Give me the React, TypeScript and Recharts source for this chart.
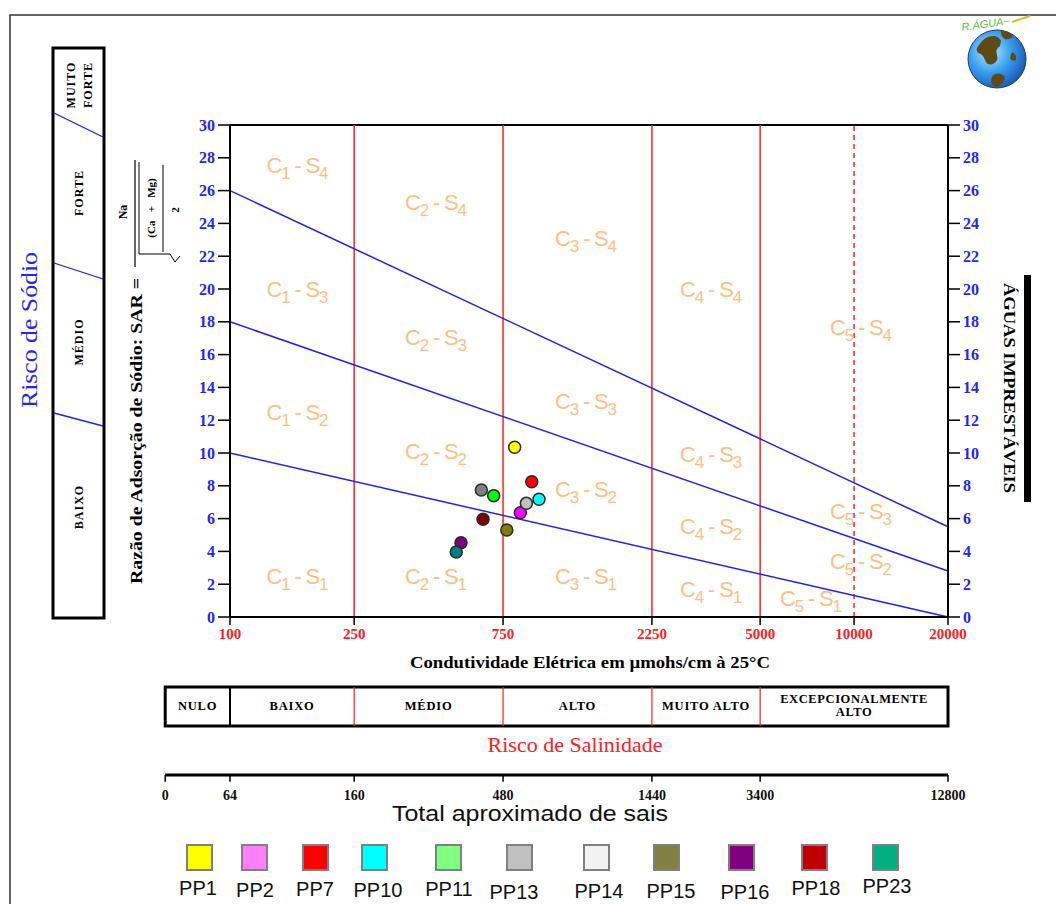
import React from 'react';
import { ScatterChart, Scatter, XAxis, YAxis, ReferenceLine, ReferenceDot, ReferenceArea } from 'recharts';

// ---------- data ----------
const ecTicks = [100, 250, 750, 2250, 5000, 10000, 20000];
const sarTicks = [0, 2, 4, 6, 8, 10, 12, 14, 16, 18, 20, 22, 24, 26, 28, 30];
const salinityBounds = [250, 750, 2250, 5000];
const dashedBound = 10000;

// sodium hazard boundaries: SAR at EC=100 and at EC=20000
const sodiumStart = [10, 18, 26];
const sodiumEnd = [0, 2.8, 5.5];

const sampleNames = ['PP1', 'PP2', 'PP7', 'PP10', 'PP11', 'PP13', 'PP14', 'PP15', 'PP16', 'PP18', 'PP23'];
const sampleEC = [817, 852, 927, 978, 700, 891, 639, 771, 550, 647, 531];
const sampleSAR = [10.35, 6.36, 8.25, 7.18, 7.4, 6.93, 7.74, 5.3, 4.53, 5.96, 3.96];
const markerColors = ['#FFFF00', '#FF00FF', '#FF0000', '#00FFFF', '#00FF00', '#C0C0C0', '#808080', '#808000', '#800080', '#800000', '#008080'];
const legendColors = ['#FFFF00', '#FF80FF', '#FF0000', '#00FFFF', '#80FF80', '#C0C0C0', '#F2F2F2', '#808040', '#800080', '#C00000', '#00B080'];

// class labels (C = salinity, S = sodium) and anchor positions (EC, SAR)
const zoneC = [1, 2, 3, 4, 5, 1, 2, 3, 4, 5, 1, 2, 3, 4, 5, 1, 2, 3, 4, 5];
const zoneS = [4, 4, 4, 4, 4, 3, 3, 3, 3, 3, 2, 2, 2, 2, 2, 1, 1, 1, 1, 1];
const zoneEC = [131, 364, 1101, 2770, 8375, 131, 364, 1101, 2770, 8375, 131, 364, 1101, 2770, 8375, 131, 364, 1101, 2770, 5790];
const zoneSAR = [27.1, 24.8, 22.6, 19.5, 17.2, 19.5, 16.6, 12.7, 9.45, 5.98, 12.0, 9.63, 7.3, 5.06, 2.93, 2.0, 2.0, 2.0, 1.22, 0.67];

// salinity risk table
const riskLabels = ['NULO', 'BAIXO', 'MÉDIO', 'ALTO', 'MUITO ALTO', 'EXCEPCIONALMENTE|ALTO'];
const riskBounds = [62, 100, 250, 750, 2250, 5000, 20000];
// total dissolved salts scale
const tdsLabels = ['0', '64', '160', '480', '1440', '3400', '12800'];
const tdsAtEC = [62, 100, 250, 750, 2250, 5000, 20000];

// legend layout
const legendSquareX = [187, 242, 303, 362, 436, 507, 584, 654, 729, 802, 873];
const legendLabelX = [198, 255, 315, 378, 449, 514, 599, 671, 745, 816, 887];
const legendLabelY = [888, 890, 889, 890, 889, 892, 891, 891, 892, 888, 886];

// ---------- styles ----------
const SERIF = 'Liberation Serif, Times New Roman, serif';
const SANS = 'Liberation Sans, Arial, sans-serif';
const BLUE = '#2424FF';
const RED = '#FF2020';
const ZONE_COLOR = '#FDBF85';

const samples = sampleNames.map((n, i) => ({ name: n, ec: sampleEC[i], sar: sampleSAR[i] }));
const zones = zoneC.map((c, i) => ({ c, s: zoneS[i], ec: zoneEC[i], sar: zoneSAR[i] }));

const ZoneLabel = (p: any) => {
  const { cx, cy, payload } = p;
  return (
    <text x={cx} y={cy} fill={ZONE_COLOR} fontFamily={SANS} fontSize={22} textLength={62} lengthAdjust="spacing">
      <tspan>C</tspan>
      <tspan fontSize={17} dy={6}>{payload.c}</tspan>
      <tspan dy={-6}>{' - S'}</tspan>
      <tspan fontSize={17} dy={6}>{payload.s}</tspan>
    </text>
  );
};

const makeDot = (color: string) => (p: any) => (
  <circle cx={p.cx} cy={p.cy} r={6} fill={color} stroke="#2a2a2a" strokeWidth={1.5} />
);

const riskText = (label: string) => (p: any) => {
  const parts = label.split('|');
  if (parts.length === 1) {
    return (
      <text x={p.cx} y={p.cy + 4} textAnchor="middle" fontFamily={SERIF} fontWeight="bold" fontSize={12.5} letterSpacing={0.8} fill="#000">
        {parts[0]}
      </text>
    );
  }
  return (
    <text x={p.cx} y={p.cy} textAnchor="middle" fontFamily={SERIF} fontWeight="bold" fontSize={12.5} letterSpacing={0.6} fill="#000">
      <tspan x={p.cx} dy={-3}>{parts[0]}</tspan>
      <tspan x={p.cx} dy={13}>{parts[1]}</tspan>
    </text>
  );
};

const tdsText = (label: string) => (p: any) => (
  <text x={p.cx} y={p.cy} textAnchor="middle" fontFamily={SERIF} fontWeight="bold" fontSize={14} fill="#111">
    {label}
  </text>
);

const rot = (x: number, y: number, a: number) => `rotate(${a} ${x} ${y})`;

export default function App() {
  return (
    <div style={{ position: 'absolute', left: 0, top: 0, width: 1056, height: 904, background: '#fff' }}>
      <div style={{ position: 'absolute', left: 0, top: 0 }}>
        <ScatterChart width={1056} height={904} margin={{ top: 125, right: 58, bottom: 247, left: 180 }}>
          <XAxis
            type="number"
            dataKey="ec"
            scale="log"
            domain={[100, 20000]}
            ticks={ecTicks}
            allowDataOverflow
            height={40}
            axisLine={{ stroke: '#000', strokeWidth: 2 }}
            tickLine={{ stroke: '#000', strokeWidth: 1.5 }}
            tickSize={8}
            tickMargin={3}
            tick={{ fill: RED, fontFamily: SERIF, fontWeight: 'bold', fontSize: 15 }}
          />
          <YAxis
            yAxisId="left"
            type="number"
            dataKey="sar"
            domain={[0, 30]}
            ticks={sarTicks}
            allowDataOverflow
            width={50}
            axisLine={{ stroke: '#000', strokeWidth: 2 }}
            tickLine={{ stroke: '#000', strokeWidth: 1.5 }}
            tickSize={12}
            tickMargin={3}
            tick={{ fill: BLUE, fontFamily: SERIF, fontWeight: 'bold', fontSize: 16 }}
          />
          <YAxis
            yAxisId="right"
            orientation="right"
            type="number"
            dataKey="sar"
            domain={[0, 30]}
            ticks={sarTicks}
            allowDataOverflow
            width={50}
            axisLine={{ stroke: '#000', strokeWidth: 2 }}
            tickLine={{ stroke: '#000', strokeWidth: 1.5 }}
            tickSize={12}
            tickMargin={3}
            tick={{ fill: BLUE, fontFamily: SERIF, fontWeight: 'bold', fontSize: 16 }}
          />

          <ReferenceLine yAxisId="left" y={30} stroke="#000" strokeWidth={2} />
          {salinityBounds.map((b) => (
            <ReferenceLine key={'sb' + b} yAxisId="left" x={b} stroke={RED} strokeWidth={1.5} />
          ))}
          <ReferenceLine yAxisId="left" x={dashedBound} stroke={RED} strokeWidth={1.5} strokeDasharray="5 4" />
          {sodiumStart.map((s, i) => (
            <ReferenceLine
              key={'sod' + i}
              yAxisId="left"
              segment={[{ x: 100, y: s }, { x: 20000, y: sodiumEnd[i] }]}
              stroke="#2020FF"
              strokeWidth={1.5}
            />
          ))}

          <Scatter yAxisId="left" data={zones} shape={ZoneLabel} isAnimationActive={false} />
          {samples.map((s, i) => (
            <Scatter key={s.name} name={s.name} yAxisId="left" data={[s]} shape={makeDot(markerColors[i])} isAnimationActive={false} />
          ))}
          <Scatter yAxisId="right" data={[]} isAnimationActive={false} />

          {/* salinity risk table */}
          <ReferenceArea
            yAxisId="left"
            x1={riskBounds[0]}
            x2={riskBounds[riskBounds.length - 1]}
            y1={-6.65}
            y2={-4.27}
            fill="none"
            fillOpacity={0}
            stroke="#000"
            strokeWidth={3}
            ifOverflow="visible"
          />
          {riskBounds.slice(1, -1).map((b, i) => (
            <ReferenceLine
              key={'rb' + b}
              yAxisId="left"
              segment={[{ x: b, y: -4.27 }, { x: b, y: -6.65 }]}
              stroke={i === 0 ? '#000' : RED}
              strokeWidth={i === 0 ? 2 : 1.2}
              ifOverflow="visible"
            />
          ))}
          {riskLabels.map((l, i) => (
            <ReferenceDot
              key={'rl' + i}
              yAxisId="left"
              x={Math.sqrt(riskBounds[i] * riskBounds[i + 1])}
              y={-5.43}
              r={0}
              ifOverflow="visible"
              shape={riskText(l)}
            />
          ))}

          {/* total dissolved salts scale */}
          <ReferenceLine
            yAxisId="left"
            segment={[{ x: tdsAtEC[0], y: -9.63 }, { x: tdsAtEC[tdsAtEC.length - 1], y: -9.63 }]}
            stroke="#000"
            strokeWidth={3}
            ifOverflow="visible"
          />
          {tdsAtEC.map((e, i) => (
            <ReferenceLine
              key={'tt' + i}
              yAxisId="left"
              segment={[{ x: e, y: -9.63 }, { x: e, y: -10.05 }]}
              stroke="#000"
              strokeWidth={1.5}
              ifOverflow="visible"
            />
          ))}
          {tdsLabels.map((l, i) => (
            <ReferenceDot key={'tl' + i} yAxisId="left" x={tdsAtEC[i]} y={-11.15} r={0} ifOverflow="visible" shape={tdsText(l)} />
          ))}
        </ScatterChart>
      </div>

      <svg width={1056} height={904} style={{ position: 'absolute', left: 0, top: 0, pointerEvents: 'none' }}>
        {/* outer frame */}
        <path d="M10,904 L10,15 L1056,15" fill="none" stroke="#333" strokeWidth={1.5} />

        {/* sodium risk panel */}
        <rect x={53} y={48} width={51} height={570} fill="none" stroke="#000" strokeWidth={3} />
        <line x1={54} y1={113} x2={103} y2={137} stroke="#2020FF" strokeWidth={1.3} />
        <line x1={54} y1={263} x2={103} y2={279} stroke="#2020FF" strokeWidth={1.3} />
        <line x1={54} y1={413} x2={103} y2={426} stroke="#2020FF" strokeWidth={1.3} />
        <g fontFamily={SERIF} fontWeight="bold" fontSize={12} fill="#000" textAnchor="middle" letterSpacing={1}>
          <text x={71} y={85} dy={4} transform={rot(71, 85, -90)}>MUITO</text>
          <text x={88} y={85} dy={4} transform={rot(88, 85, -90)}>FORTE</text>
          <text x={79} y={193} dy={4} transform={rot(79, 193, -90)}>FORTE</text>
          <text x={79} y={342} dy={4} transform={rot(79, 342, -90)}>MÉDIO</text>
          <text x={79} y={507} dy={4} transform={rot(79, 507, -90)}>BAIXO</text>
        </g>
        <text x={30} y={330} dy={7} transform={rot(30, 330, -90)} textAnchor="middle" fontFamily={SERIF} fontSize={23} fill={BLUE} textLength={156} lengthAdjust="spacingAndGlyphs">
          Risco de Sódio
        </text>

        {/* SAR label & formula */}
        <text x={136} y={431} dy={6} transform={rot(136, 431, -90)} textAnchor="middle" fontFamily={SERIF} fontWeight="bold" fontSize={17} fill="#000" textLength={306} lengthAdjust="spacingAndGlyphs">
          Razão de Adsorção de Sódio: SAR =
        </text>
        <text x={123} y={212} dy={4} transform={rot(123, 212, -90)} textAnchor="middle" fontFamily={SERIF} fontWeight="bold" fontSize={12} fill="#000">
          Na
        </text>
        <line x1={135} y1={160} x2={135} y2={267} stroke="#000" strokeWidth={1.2} />
        <polyline points="139,162 139,254 170,254 175,262 180,256" fill="none" stroke="#000" strokeWidth={1} />
        <text x={151} y={208} dy={4} transform={rot(151, 208, -90)} textAnchor="middle" fontFamily={SERIF} fontWeight="bold" fontSize={11} fill="#000" xmlSpace="preserve">
          (Ca   +   Mg)
        </text>
        <line x1={163} y1={165} x2={163} y2={252} stroke="#000" strokeWidth={1} />
        <text x={175} y={210} dy={4} transform={rot(175, 210, -90)} textAnchor="middle" fontFamily={SERIF} fontWeight="bold" fontSize={11} fill="#000">
          2
        </text>

        {/* right side label */}
        <text x={1009} y={388} dy={5} transform={rot(1009, 388, 90)} textAnchor="middle" fontFamily={SERIF} fontWeight="bold" fontSize={16} fill="#000" textLength={210} lengthAdjust="spacingAndGlyphs">
          ÁGUAS IMPRESTÁVEIS
        </text>
        <rect x={1024} y={275} width={7} height={227} fill="#000" />

        {/* axis titles */}
        <text x={590} y={668} textAnchor="middle" fontFamily={SERIF} fontWeight="bold" fontSize={17} fill="#000" textLength={360} lengthAdjust="spacingAndGlyphs">
          Condutividade Elétrica em µmohs/cm à 25°C
        </text>
        <text x={575} y={752} textAnchor="middle" fontFamily={SERIF} fontSize={21} fill={RED} textLength={175} lengthAdjust="spacingAndGlyphs">
          Risco de Salinidade
        </text>
        <text x={530} y={821} textAnchor="middle" fontFamily={SANS} fontSize={22} fill="#111" textLength={276} lengthAdjust="spacingAndGlyphs">
          Total aproximado de sais
        </text>

        {/* legend */}
        {sampleNames.map((n, i) => (
          <g key={'lg' + n}>
            <rect x={legendSquareX[i]} y={845} width={25} height={25} fill={legendColors[i]} stroke="#808080" strokeWidth={2} />
            <text x={legendLabelX[i]} y={legendLabelY[i] + 7} textAnchor="middle" fontFamily={SANS} fontSize={20} fill="#111">
              {n}
            </text>
          </g>
        ))}

        {/* logo */}
        <defs>
          <radialGradient id="globe" cx="0.38" cy="0.38" r="0.7">
            <stop offset="0" stopColor="#B8ECFF" />
            <stop offset="0.5" stopColor="#3AA0F0" />
            <stop offset="1" stopColor="#1450B0" />
          </radialGradient>
        </defs>
        <circle cx={997} cy={59} r={29} fill="url(#globe)" stroke="#1a3a6a" strokeWidth={1} />
        <path d="M979,45 q6,-10 16,-9 q8,2 5,10 q-5,3 -3,9 q2,6 -4,9 q-6,2 -8,-4 q-2,-6 -7,-7 q-3,-4 1,-8 z" fill="#5E4A12" />
        <path d="M1001,31 q8,0 12,5 q-3,4 -8,3 q-4,-2 -4,-8 z" fill="#5E4A12" />
        <path d="M995,74 q6,-2 10,3 q-1,6 -6,9 q-6,2 -8,-4 q0,-6 4,-8 z" fill="#5E4A12" />
        <path d="M1012,52 q5,2 4,8 q-4,2 -6,-2 z" fill="#5E4A12" />
        <text x={962} y={31} fontFamily={SANS} fontStyle="italic" fontSize={11} fill="#5BBF3A" transform={rot(962, 31, -8)}>
          R.ÁGUA~
        </text>
        <line x1={1012} y1={22} x2={1030} y2={16} stroke="#D8C030" strokeWidth={2} />
      </svg>
    </div>
  );
}
